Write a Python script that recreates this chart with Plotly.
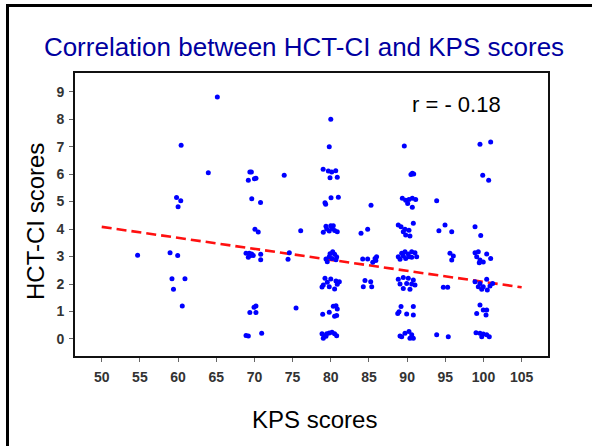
import plotly.graph_objects as go

# Jittered scatter points (KPS score, HCT-CI score)
kps_jitter = [
    54.7,
    60.4, 59.8, 60.35, 60.0, 58.95, 59.95, 59.2, 60.9, 59.4, 60.55,
    65.14, 63.96,
    69.4, 69.6, 69.2, 70.0, 70.2, 69.65, 70.8, 70.07, 70.5, 68.9, 69.33, 69.64,
    69.2, 69.5, 69.85, 70.82, 70.82, 69.95, 70.2, 69.4, 70.2, 68.9, 69.2, 70.95,
    73.9, 74.57, 74.4, 76.06, 75.45,
    80.0, 79.8, 79.0, 79.68, 80.12, 80.65, 79.9, 80.85, 80.03, 80.99, 79.24, 79.33,
    79.02, 79.47, 80.0, 80.33, 79.8, 80.5, 80.85, 80.15, 79.37,
    79.37, 79.9, 80.25, 80.5, 80.77, 80.15, 79.54, 80.68, 79.8,
    79.24, 80.0, 79.02, 79.54, 80.68, 81.12, 78.85, 79.8, 80.5, 80.85,
    80.68, 80.85, 80.33, 79.8, 78.94, 80.5, 80.77,
    78.85, 79.11, 79.47, 79.8, 80.16, 80.5, 80.77, 79.02, 79.37,
    85.27, 83.96, 84.83, 84.18, 84.83, 85.5, 85.8, 86.0, 85.9, 84.48, 85.23, 84.26, 85.36,
    89.63, 90.68, 90.5, 90.86,
    89.37, 89.81, 90.24, 90.68, 91.12, 90.07, 90.68,
    88.84, 89.2, 89.72, 90.81, 90.24, 89.81, 90.37, 89.5,
    88.84, 89.29, 89.72, 90.15, 90.6, 91.03, 89.07, 89.81, 90.6, 91.25, 89.5, 90.24,
    88.84, 89.5, 90.15, 90.81, 89.07, 91.03, 89.5, 90.37, 89.94, 90.6,
    89.2, 88.94, 88.77, 90.81, 89.94, 90.81,
    89.07, 89.72, 90.24, 90.6, 90.81, 89.29, 90.37,
    93.87, 94.96, 94.16, 95.84, 95.61, 96.05, 95.84, 94.74, 95.31, 93.87, 95.39,
    99.54, 100.94, 99.9, 100.68, 98.89, 99.64,
    98.89, 99.32, 99.11, 99.54, 99.97, 100.42, 100.94, 99.45,
    98.89, 99.54, 100.42, 100.85, 99.97, 99.32, 101.2, 100.5, 99.77,
    99.54, 99.97, 99.11, 100.42, 100.33,
    99.02, 99.54, 99.97, 100.42, 100.76, 99.77,
]
hct_jitter = [
    3.05,
    7.05, 5.15, 5.03, 4.81, 3.14, 3.04, 2.19, 2.19, 1.81, 1.2,
    8.81, 6.05,
    6.08, 6.08, 5.78, 5.83, 5.85, 5.1, 4.97, 3.99, 3.89, 3.12, 3.12, 3.09,
    2.97, 3.04, 3.04, 3.08, 2.88, 1.15, 1.2, 0.96, 0.96, 0.13, 0.11, 0.21,
    5.96, 3.14, 2.9, 3.94, 1.13,
    8.0, 7.0, 6.18, 6.11, 6.08, 6.12, 5.87, 5.89, 5.14, 5.16, 4.96, 4.9,
    3.88, 4.0, 4.12, 4.12, 3.93, 3.95, 3.9, 4.02, 4.1,
    2.91, 3.1, 3.17, 3.08, 2.98, 2.93, 2.81, 2.88, 2.99,
    2.21, 2.18, 1.96, 2.06, 2.11, 2.08, 1.89, 1.9, 1.82, 1.99,
    1.21, 1.09, 1.19, 0.97, 0.9, 0.83, 0.85,
    0.19, 0.12, 0.19, 0.22, 0.24, 0.19, 0.12, 0.03, 0.1,
    4.87, 3.85, 3.99, 2.91, 2.91, 2.79, 2.93, 2.99, 2.86, 2.13, 2.08, 1.9, 1.9,
    7.02, 6.03, 5.99, 6.0,
    5.12, 5.05, 5.08, 5.12, 5.08, 4.93, 4.79,
    4.15, 4.08, 3.99, 4.21, 3.96, 3.78, 3.75, 3.9,
    2.99, 3.12, 3.17, 3.09, 3.17, 3.14, 2.9, 2.93, 2.97, 2.99, 3.02, 2.99,
    2.17, 2.24, 2.21, 2.15, 2.0, 1.96, 1.84, 1.81, 2.02, 2.0,
    1.18, 0.99, 0.93, 1.18, 0.91, 0.87,
    0.11, 0.21, 0.27, 0.15, 0.03, 0.08, 0.03,
    5.03, 4.15, 3.94, 3.9, 3.12, 3.02, 2.87, 1.88, 1.88, 0.15, 0.08,
    7.09, 7.17, 5.96, 5.78, 4.08, 3.77,
    3.14, 3.17, 2.99, 2.87, 2.8, 3.09, 2.93, 2.77,
    2.08, 2.02, 2.17, 1.93, 1.9, 1.9, 2.02, 1.78, 1.81,
    1.24, 1.05, 0.93, 1.05, 0.87,
    0.23, 0.21, 0.18, 0.15, 0.08, 0.08,
]

# Regression line end points
fit_x = [50, 105]
fit_y = [4.08, 1.88]

x_ticks = [50, 55, 60, 65, 70, 75, 80, 85, 90, 95, 100, 105]
y_ticks = [0, 1, 2, 3, 4, 5, 6, 7, 8, 9]

FONT = "Liberation Sans, Arial, Helvetica, sans-serif"

fig = go.Figure()
fig.add_trace(go.Scatter(
    x=fit_x, y=fit_y, mode="lines",
    line=dict(color="#FF1010", width=2.6, dash="10px,5px"),
    hoverinfo="skip", showlegend=False,
))
fig.add_trace(go.Scatter(
    x=kps_jitter, y=hct_jitter, mode="markers",
    marker=dict(color="#0000FF", size=5, line=dict(width=0)),
    showlegend=False,
))

axis_common = dict(
    showgrid=False, zeroline=False,
    showline=True, linecolor="#111111", linewidth=2, mirror=True,
    ticks="outside", ticklen=4, tickwidth=1, tickcolor="#666666",
    tickfont=dict(family=FONT, size=14, color="#333333", weight="bold"),
)

fig.update_layout(
    width=592, height=446,
    margin=dict(l=75, r=44, t=73, b=90),
    paper_bgcolor="white", plot_bgcolor="white",
    font=dict(family=FONT),
    title=dict(
        text="Correlation between HCT-CI and KPS scores",
        font=dict(family=FONT, size=26, color="#0000A0"),
        x=304 / 592, xanchor="center", xref="container",
        y=1 - 47 / 446, yanchor="middle", yref="container",
    ),
    xaxis=dict(range=[46.5, 108.45], tickvals=x_ticks, ticklabelstandoff=3, **axis_common),
    yaxis=dict(range=[-0.62, 9.68], tickvals=y_ticks, ticklabelstandoff=2, **axis_common),
    annotations=[
        dict(text="r = - 0.18", x=(456 - 75) / 473, y=(356 - 104) / 283,
             xref="paper", yref="paper", showarrow=False,
             xanchor="center", yanchor="middle",
             font=dict(family=FONT, size=22, color="black")),
        dict(text="KPS scores", x=(314 - 75) / 473, y=(356 - 419) / 283,
             xref="paper", yref="paper", showarrow=False,
             xanchor="center", yanchor="middle",
             font=dict(family=FONT, size=24, color="black")),
        dict(text="HCT-CI scores", x=(35 - 75) / 473, y=(356 - 222) / 283,
             xref="paper", yref="paper", showarrow=False, textangle=-90,
             xanchor="center", yanchor="middle",
             font=dict(family=FONT, size=24, color="black")),
    ],
    shapes=[
        dict(type="path", xref="paper", yref="paper",
             path="M %f,%f L %f,%f L %f,%f" % (
                 (7.5 - 75) / 473, (356 - 446) / 283,
                 (7.5 - 75) / 473, (356 - 5.5) / 283,
                 (592 - 75) / 473, (356 - 5.5) / 283),
             line=dict(color="black", width=3)),
    ],
)

fig.write_html("out.html")
